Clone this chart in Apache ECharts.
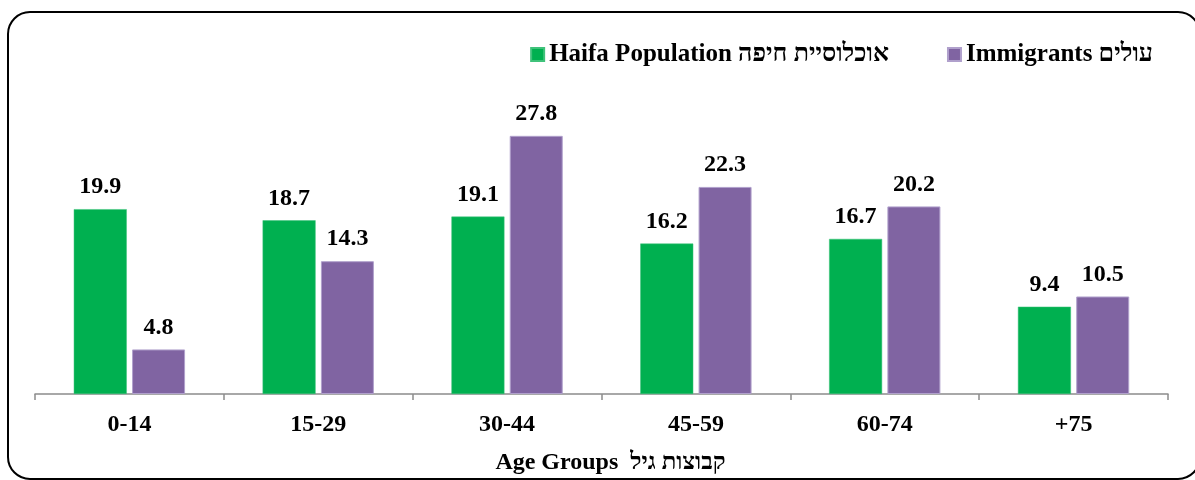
<!DOCTYPE html>
<html>
<head>
<meta charset="utf-8">
<script src="https://cdn.jsdelivr.net/npm/echarts@6/dist/echarts.min.js"></script>
<style>html,body{margin:0;padding:0;background:#fff;}#c{width:1195px;height:480px;}</style>
</head>
<body>
<div id="c"></div>
<script>
const categories = ['0-14', '15-29', '30-44', '45-59', '60-74', '+75'];
const haifaValues = [19.9, 18.7, 19.1, 16.2, 16.7, 9.4];
const immigrantValues = [4.8, 14.3, 27.8, 22.3, 20.2, 10.5];
const seriesNames = ['Haifa Population אוכלוסיית חיפה', 'Immigrants עולים'];
const axisTitle = 'Age Groups  קבוצות גיל';

const FONT = "'Liberation Serif', 'DejaVu Sans', 'Liberation Sans', serif";

const chart = echarts.init(document.getElementById('c'), null, {renderer: 'canvas'});
const labelStyle = {show: true, position: 'top', distance: 10, fontFamily: FONT, fontWeight: 'bold', fontSize: 24, color: '#000'};
chart.setOption({
  animation: false,
  backgroundColor: '#fff',
  graphic: [{
    type: 'rect', silent: true, z: -1,
    shape: {x: 8, y: 12, width: 1192, height: 467, r: 22},
    style: {fill: 'none', stroke: '#000', lineWidth: 2}
  }],
  legend: {
    selectedMode: false,
    right: 37, top: 37,
    icon: 'rect', itemWidth: 13, itemHeight: 13, itemGap: 58,
    textStyle: {fontFamily: FONT, fontWeight: 'bold', fontSize: 25, color: '#000'}
  },
  grid: {left: 35, right: 27, top: 115.4, bottom: 85},
  xAxis: {
    type: 'category', data: categories,
    axisLine: {lineStyle: {color: '#8c8c8c', width: 1.5}},
    axisTick: {show: true, length: 6, lineStyle: {color: '#8c8c8c', width: 1.5}},
    axisLabel: {fontFamily: FONT, fontWeight: 'bold', fontSize: 24, color: '#000', margin: 19},
    name: axisTitle,
    nameLocation: 'middle', nameGap: 57,
    nameTextStyle: {fontFamily: FONT, fontWeight: 'bold', fontSize: 24, color: '#000', padding: [0, 0, 0, 18]}
  },
  yAxis: {type: 'value', min: 0, max: 30, show: false, splitLine: {show: false}},
  series: [
    {name: seriesNames[0], type: 'bar', data: haifaValues, barWidth: 53, barGap: '10%',
     itemStyle: {color: '#00B050', borderColor: '#3fc27a', borderWidth: 0.5}, label: labelStyle},
    {name: seriesNames[1], type: 'bar', data: immigrantValues, barWidth: 53, barGap: '10%',
     itemStyle: {color: '#8064A2', borderColor: '#b0a0cc', borderWidth: 1}, label: labelStyle}
  ]
});
</script>
</body>
</html>
